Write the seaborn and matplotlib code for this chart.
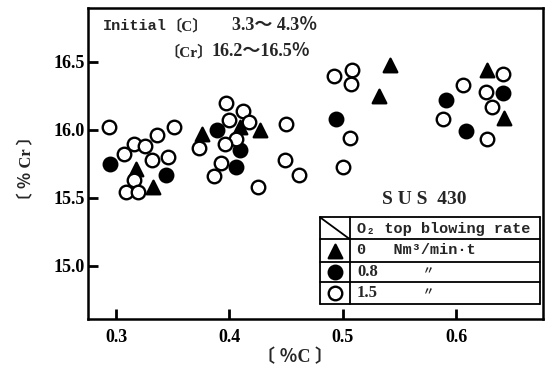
import numpy as np
import pandas as pd
import matplotlib
matplotlib.use('Agg')
import matplotlib.pyplot as plt
import seaborn as sns

#------------------------------------------
# O2 top blowing rate 0 Nm3/min.t (triangles)
c_0 = [0.318, 0.333, 0.376, 0.409, 0.427, 0.532, 0.542, 0.627, 0.642]
cr_0 = [15.71, 15.58, 15.97, 16.02, 16.00, 16.25, 16.48, 16.44, 16.09]

# 0.8 Nm3/min.t (filled circles)
c_08 = [0.295, 0.344, 0.389, 0.409, 0.406, 0.494, 0.591, 0.609, 0.641]
cr_08 = [15.75, 15.67, 16.00, 15.85, 15.73, 16.08, 16.22, 15.99, 16.27]

# 1.5 Nm3/min.t (open circles)
c_15 = [0.294, 0.351, 0.336, 0.316, 0.326, 0.307, 0.332, 0.346, 0.316, 0.309, 0.319,
        0.397, 0.412, 0.400, 0.417, 0.450, 0.406, 0.396, 0.373, 0.393, 0.386, 0.449, 0.461, 0.425,
        0.492, 0.508, 0.507, 0.506, 0.500,
        0.641, 0.606, 0.626, 0.632, 0.588, 0.627]
cr_15 = [16.02, 16.02, 15.96, 15.90, 15.88, 15.82, 15.78, 15.80, 15.63, 15.54, 15.54,
         16.20, 16.14, 16.07, 16.06, 16.04, 15.93, 15.90, 15.87, 15.76, 15.66, 15.78, 15.67, 15.58,
         16.40, 16.44, 16.34, 15.94, 15.73,
         16.41, 16.33, 16.28, 16.17, 16.08, 15.93]

x_ticks = [0.3, 0.4, 0.5, 0.6]
y_ticks = [15.0, 15.5, 16.0, 16.5]

df = pd.concat([
    pd.DataFrame({'C': c_0, 'Cr': cr_0, 'rate': '0'}),
    pd.DataFrame({'C': c_08, 'Cr': cr_08, 'rate': '0.8'}),
    pd.DataFrame({'C': c_15, 'Cr': cr_15, 'rate': '1.5'}),
])

######################################################
sns.set_style('ticks')
serif = ['Liberation Serif', 'Noto Sans CJK JP']
mono = ['Liberation Mono', 'DejaVu Sans Mono', 'Noto Sans CJK JP']
plt.rcParams['font.family'] = serif
plt.rcParams['font.weight'] = 'bold'

W, H = 546, 369
fig = plt.figure(figsize=(W / 100, H / 100), dpi=100)
L, R, T, B = 88, 543, 7.5, 319
ax = fig.add_axes([L / W, 1 - B / H, (R - L) / W, (B - T) / H])

def px(x, y):
    # pixel position -> axes fraction
    return (x - L) / (R - L), (B - y) / (B - T)

#plot
ms = 95
kw = dict(s=ms, linewidth=1.7, edgecolor='black', legend=False, ax=ax, zorder=3)
sns.scatterplot(data=df[df.rate == '0'], x='C', y='Cr', marker='^', color='black', **kw)
sns.scatterplot(data=df[df.rate == '0.8'], x='C', y='Cr', marker='o', color='black', **kw)
sns.scatterplot(data=df[df.rate == '1.5'], x='C', y='Cr', marker='o', facecolor='white', **kw)

#adjust
ax.set_xlim(0.2753, 0.6766)
ax.set_ylim(14.61, 16.90)
ax.set_xticks(x_ticks)
ax.set_yticks(y_ticks)
ax.set_xticklabels([f'{v:.1f}' for v in x_ticks], fontsize=13, weight='bold')
ax.set_yticklabels([f'{v:.1f}' for v in y_ticks], fontsize=13, weight='bold')
ax.tick_params(direction='in', length=7, width=2, colors='black')
ax.tick_params(axis='x', pad=7)
ax.tick_params(axis='y', pad=2)
for sp in ax.spines.values():
    sp.set_linewidth(1.8)
    sp.set_color('black')
ax.set_xlabel('')
ax.set_ylabel('')

fig.text(295 / W, 1 - 357 / H, '〔 ％C 〕', ha='center', va='center', fontsize=13,
         weight='bold', family=serif)
fig.text(27 / W, 1 - 168 / H, '〔 ％ Cr 〕', ha='center', va='center', fontsize=12,
         weight='bold', family=serif, rotation=90)

# initial composition
ax.text(*px(103, 26), 'Initial', transform=ax.transAxes, ha='left', va='center',
        fontsize=11, weight='bold', family=mono)
ax.text(*px(187, 26), '〔C〕', transform=ax.transAxes, ha='center', va='center',
        fontsize=11, weight='bold', family=serif)
ax.text(*px(232, 26), '3.3～ 4.3％', transform=ax.transAxes, ha='left', va='center',
        fontsize=13, weight='bold', family=serif)
ax.text(*px(189, 52), '〔Cr〕', transform=ax.transAxes, ha='center', va='center',
        fontsize=11, weight='bold', family=serif)
ax.text(*px(212, 52), '16.2～16.5％', transform=ax.transAxes, ha='left', va='center',
        fontsize=13, weight='bold', family=serif)

ax.text(*px(424, 200), 'S U S  430', transform=ax.transAxes, ha='center', va='center',
        fontsize=14, weight='bold', family=serif)

# legend table
tl, td, tr = 320, 350, 540
rows = [217.3, 239.3, 261.7, 281.7, 304.3]
lk = dict(transform=ax.transAxes, color='black', linewidth=1.3, clip_on=False, zorder=4)
for yy in rows:
    x0, y0 = px(tl, yy)
    x1, _ = px(tr, yy)
    ax.plot([x0, x1], [y0, y0], **lk)
for xx in [tl, td, tr]:
    x0, y0 = px(xx, rows[0])
    _, y1 = px(xx, rows[-1])
    ax.plot([x0, x0], [y0, y1], **lk)
(x0, y0), (x1, y1) = px(tl, rows[0]), px(td, rows[1])
ax.plot([x0, x1], [y0, y1], **lk)

ax.text(*px(357, 228.5), 'O₂ top blowing rate', transform=ax.transAxes, ha='left',
        va='center', fontsize=11, weight='bold', family=mono)
labels = ['0   Nm³/min·t', '0.8', '1.5']
marks = [('^', 'black'), ('o', 'black'), ('o', 'white')]
for i, (lab, (m, fc)) in enumerate(zip(labels, marks)):
    yc = (rows[i + 1] + rows[i + 2]) / 2
    ax.scatter(*px(335, yc), marker=m, s=ms, facecolor=fc, edgecolor='black',
               linewidth=1.7, transform=ax.transAxes, clip_on=False, zorder=5)
    ax.text(*px(357, yc), lab, transform=ax.transAxes, ha='left', va='center',
            fontsize=12 if i else 11, weight='bold', family=serif if i else mono)
    if i:
        ax.text(*px(428, yc), '〃', transform=ax.transAxes, ha='center', va='center',
                fontsize=8, weight='bold', family=serif)

#save
plt.savefig('out.png', dpi=100)
plt.close()
